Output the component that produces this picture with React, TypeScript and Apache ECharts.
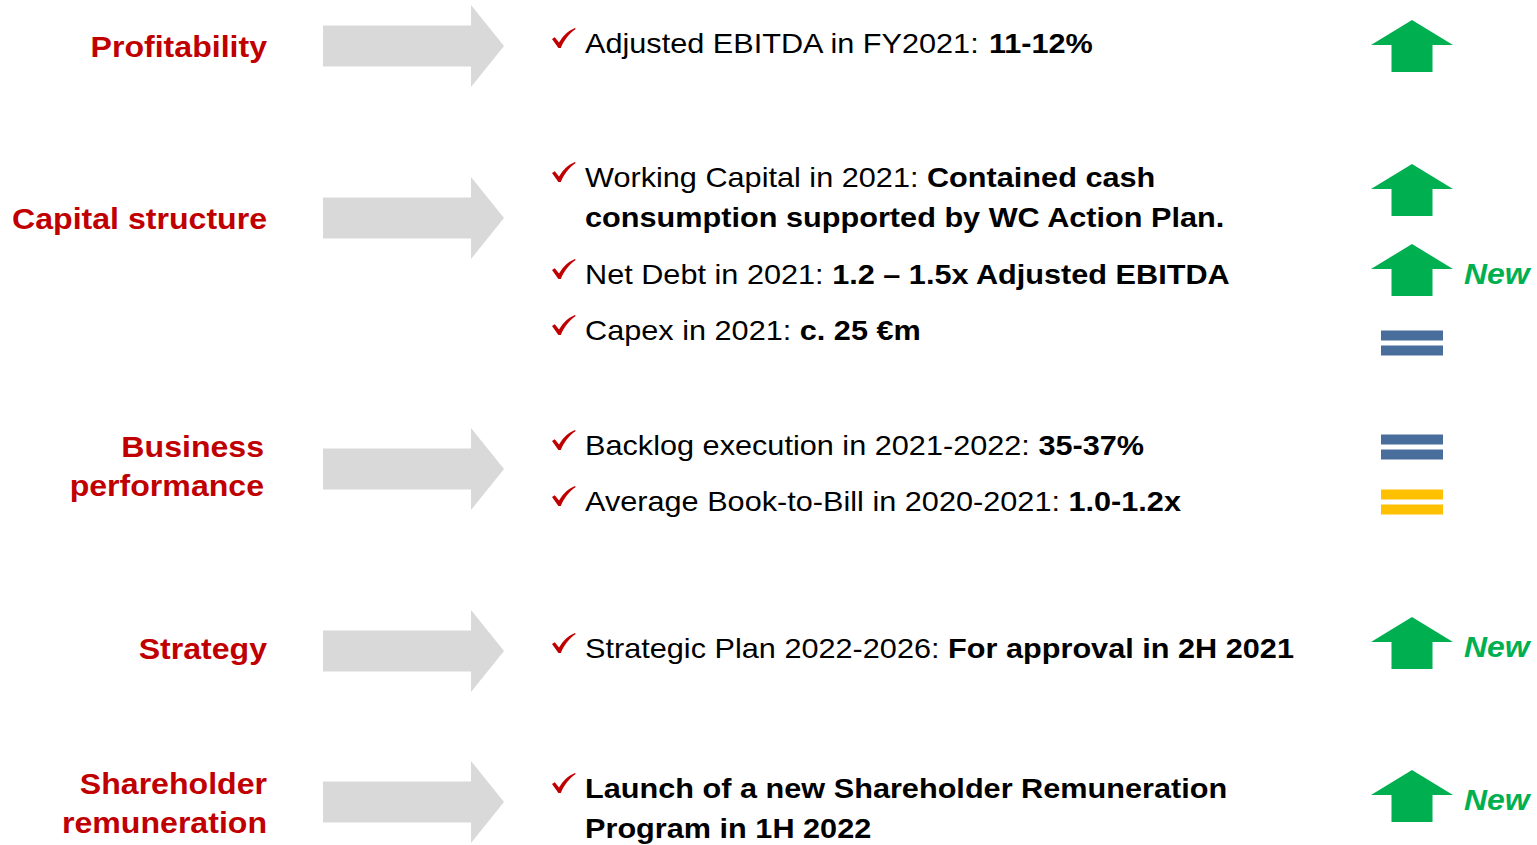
import React, { useEffect, useRef } from "react";
import * as echarts from "echarts";

// ---- data ----
const categories = ["Profitability", "Capital structure", "Business\nperformance", "Strategy", "Shareholder\nremuneration"];
const bulletPlain = [
  "Adjusted EBITDA in FY2021: ",
  "Working Capital in 2021: ",
  "Net Debt in 2021: ",
  "Capex in 2021: ",
  "Backlog execution in 2021-2022: ",
  "Average Book-to-Bill in 2020-2021: ",
  "Strategic Plan 2022-2026: ",
  "",
];
const bulletBold = [
  "11-12%",
  "Contained cash\nconsumption supported by WC Action Plan.",
  "1.2 – 1.5x Adjusted EBITDA",
  "c. 25 €m",
  "35-37%",
  "1.0-1.2x",
  "For approval in 2H 2021",
  "Launch of a new Shareholder Remuneration\nProgram in 1H 2022",
];
const bulletOutlook = ["up", "up", "up", "maintained", "maintained", "revised", "up", "up"];
const bulletNew = [false, false, true, false, false, false, true, true];
const newLabel = "New";

// ---- layout ----
const categoryY = [47, 219, 466, 649, 803];
const categoryRight = [267, 267, 264, 267, 267];
const arrowY = [46, 218, 469, 651, 802];
const bulletY = [43, 177, 274, 330, 445, 501, 648, 788];
const indicatorY = [46, 190, 270, 343, 447, 502, 643, 796];
const LINE_GAP = 40;

const RED = "#c00000";
const GREEN = "#00b050";
const BLUE = "#4a6e9b";
const YELLOW = "#ffc000";
const GRAY = "#d9d9d9";
const FONT = "'Liberation Sans', Arial, Helvetica, sans-serif";

const CHECK_D =
  "M0 11 L2.8 9.2 L7 14.6 C11 7.8 16 2.8 23 0 L23.7 1 C17 5.8 12.2 11.8 8.8 20 L6.4 20 Z";

export default function App() {
  const ref = useRef<HTMLDivElement>(null);

  useEffect(() => {
    if (!ref.current) return;
    try {
      echarts.graphic.registerShape("checkmark", echarts.graphic.extendPath(CHECK_D, {}));
    } catch (e) {}
    const chart = echarts.init(ref.current, undefined, { renderer: "svg" });
    const els: any[] = [];

    // category labels + grey arrows
    categories.forEach((c, i) => {
      const lines = c.split("\n");
      lines.forEach((ln, k) => {
        const y = categoryY[i] + (k - (lines.length - 1) / 2) * 39;
        els.push({
          type: "text",
          x: categoryRight[i],
          y,
          scaleX: 1.07,
          style: {
            text: ln,
            fill: RED,
            font: `bold 30px ${FONT}`,
            align: "right",
            verticalAlign: "middle",
          },
        });
      });
      const cy = arrowY[i];
      els.push({
        type: "polygon",
        shape: {
          points: [
            [323, cy - 20.5],
            [471, cy - 20.5],
            [471, cy - 41],
            [504, cy],
            [471, cy + 41],
            [471, cy + 20.5],
            [323, cy + 20.5],
          ],
        },
        style: { fill: GRAY },
      });
    });

    // bullets
    bulletPlain.forEach((plain, i) => {
      const boldLines = bulletBold[i].split("\n");
      const y0 = bulletY[i];
      els.push({
        type: "checkmark",
        x: 552,
        y: y0 - 15,
        style: { fill: RED },
      });
      boldLines.forEach((bl, k) => {
        let text = "";
        if (k === 0 && plain) text += `{n|${plain}}`;
        text += `{b|${bl}}`;
        els.push({
          type: "text",
          x: 585,
          y: y0 + k * LINE_GAP,
          scaleX: 1.095,
          style: {
            text,
            align: "left",
            verticalAlign: "middle",
            rich: {
              n: { fill: "#000", fontSize: 28, fontFamily: FONT, fontWeight: "normal" },
              b: { fill: "#000", fontSize: 28, fontFamily: FONT, fontWeight: "bold" },
            },
          },
        });
      });

      // indicator
      const cy = indicatorY[i];
      const o = bulletOutlook[i];
      if (o === "up") {
        const cx = 1412;
        els.push({
          type: "polygon",
          shape: {
            points: [
              [cx, cy - 26],
              [cx + 41, cy - 1],
              [cx + 20.5, cy - 1],
              [cx + 20.5, cy + 26],
              [cx - 20.5, cy + 26],
              [cx - 20.5, cy - 1],
              [cx - 41, cy - 1],
            ],
          },
          style: { fill: GREEN },
        });
      } else {
        const color = o === "revised" ? YELLOW : BLUE;
        els.push({ type: "rect", shape: { x: 1381, y: cy - 12.5, width: 62, height: 10 }, style: { fill: color } });
        els.push({ type: "rect", shape: { x: 1381, y: cy + 2.5, width: 62, height: 10 }, style: { fill: color } });
      }
      if (bulletNew[i]) {
        els.push({
          type: "text",
          x: 1464,
          y: cy + 4,
          scaleX: 1.1,
          style: {
            text: newLabel,
            fill: GREEN,
            font: `italic bold 29px ${FONT}`,
            align: "left",
            verticalAlign: "middle",
          },
        });
      }
    });

    chart.setOption({
      animation: false,
      backgroundColor: "#ffffff",
      graphic: { elements: els },
    });
    return () => chart.dispose();
  }, []);

  return (
    <div
      ref={ref}
      style={{ position: "fixed", left: 0, top: 0, width: 1537, height: 845, background: "#fff" }}
    />
  );
}
